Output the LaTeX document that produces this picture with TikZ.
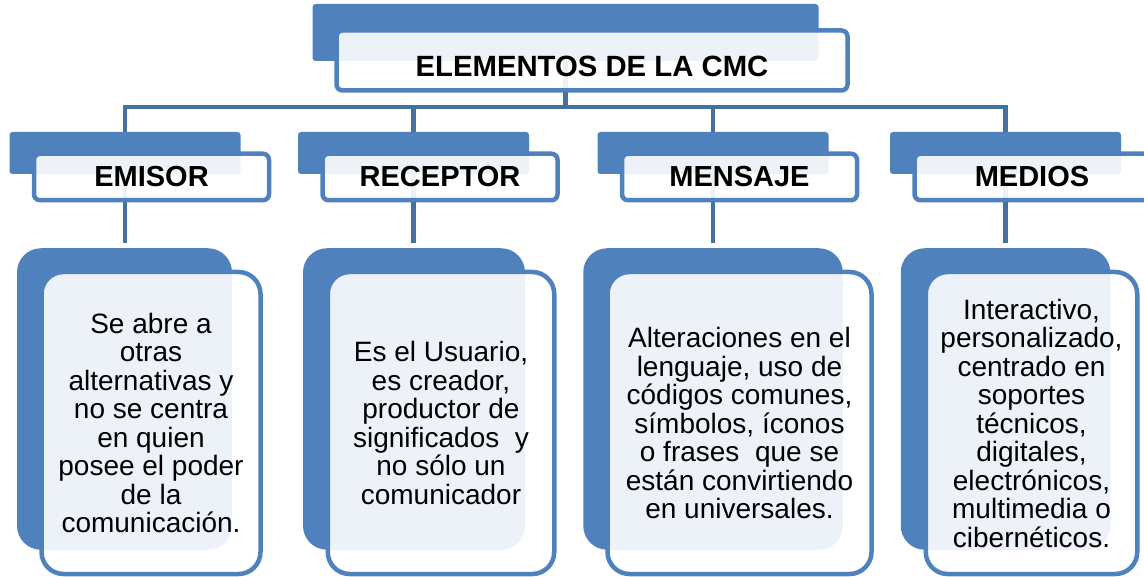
\documentclass[tikz,border=0pt]{standalone}
\usepackage{fontspec}
\setmainfont{Liberation Sans}
\usetikzlibrary{backgrounds}
\definecolor{cmcblue}{HTML}{4F81BD}
\definecolor{cmcline}{HTML}{44729F}

\begin{document}
\begin{tikzpicture}[x=1pt,y=-1pt,
    back/.style={fill=cmcblue, draw=none, inner sep=0pt},
    headback/.style={back, rounded corners=3pt, minimum width=231pt, minimum height=42pt},
    front/.style={draw=cmcblue, line width=4.5pt, fill=white, fill opacity=0.9, text opacity=1, inner sep=0pt},
    headfront/.style={front, rounded corners=6pt, minimum width=235pt, minimum height=46.5pt,
      font=\fontsize{29}{30}\selectfont\bfseries},
    cardback/.style={back, rounded corners=24pt, minimum height=301.5pt},
    cardfront/.style={front, rounded corners=22pt, minimum height=302pt, align=center,
      font=\fontsize{28}{28.5}\selectfont},
    link/.style={draw=cmcline, line width=4.5pt, line join=miter}]
  \useasboundingbox (0,0) rectangle (1144,577);

  % back plates
  \node[back, rounded corners=3pt, minimum width=506pt, minimum height=57pt] (tb) at (565.5,32.5) {};
  \node[headback] (h1) at (125,153) {};
  \node[headback] (h2) at (413.5,153) {};
  \node[headback] (h3) at (713,153) {};
  \node[headback] (h4) at (1005.5,153) {};
  \node[cardback, minimum width=215pt] (c1) at (124.5,399) {};
  \node[cardback, minimum width=222pt] (c2) at (414,399) {};
  \node[cardback, minimum width=259.5pt] (c3) at (713,399) {};
  \node[cardback, minimum width=209.5pt] (c4) at (1005.5,399) {};

  % front boxes
  \node[front, rounded corners=6pt, minimum width=511pt, minimum height=60pt,
    font=\fontsize{29.3}{30}\selectfont\bfseries, text height=32pt] (tf) at (592,60.5) {ELEMENTOS DE LA CMC};
  \node[headfront] (e1) at (151.5,177) {EMISOR};
  \node[headfront] (e2) at (440,177) {RECEPTOR};
  \node[headfront] (e3) at (739.5,177) {MENSAJE};
  \node[headfront] (e4) at (1032,177) {MEDIOS};

  \node[cardfront, minimum width=219pt] (t1) at (151,423)
    {Se abre a\\otras\\alternativas y\\no se centra\\en quien\\posee el poder\\de la\\comunicación.};
  \node[cardfront, minimum width=226.5pt] (t2) at (441,423)
    {Es el Usuario,\\es creador,\\productor de\\significados~ y\\no sólo un\\comunicador};
  \node[cardfront, minimum width=264pt] (t3) at (739.5,423)
    {Alteraciones en el\\lenguaje, uso de\\códigos comunes,\\símbolos, íconos\\o frases~ que se\\están convirtiendo\\en universales.};
  \node[cardfront, minimum width=211.5pt] (t4) at (1031.5,423)
    {Interactivo,\\personalizado,\\centrado en\\soportes\\técnicos,\\digitales,\\electrónicos,\\multimedia o\\cibernéticos.};

  % connectors
  \coordinate (bus) at (565.5,107);
  \begin{scope}[on background layer]
    \draw[link] (tb.center) -- (tb.center |- bus);
    \draw[link] (h1.center) -- (h1.center |- bus) -- (h4.center |- bus) -- (h4.center);
    \draw[link] (h2.center |- bus) -- (h2.center);
    \draw[link] (h3.center |- bus) -- (h3.center);
    \draw[link, shorten >=5.5pt] (h1.center) -- (h1.center |- c1.north);
    \draw[link, shorten >=5.5pt] (h2.center) -- (h2.center |- c2.north);
    \draw[link, shorten >=5.5pt] (h3.center) -- (h3.center |- c3.north);
    \draw[link, shorten >=5.5pt] (h4.center) -- (h4.center |- c4.north);
  \end{scope}
\end{tikzpicture}
\end{document}
